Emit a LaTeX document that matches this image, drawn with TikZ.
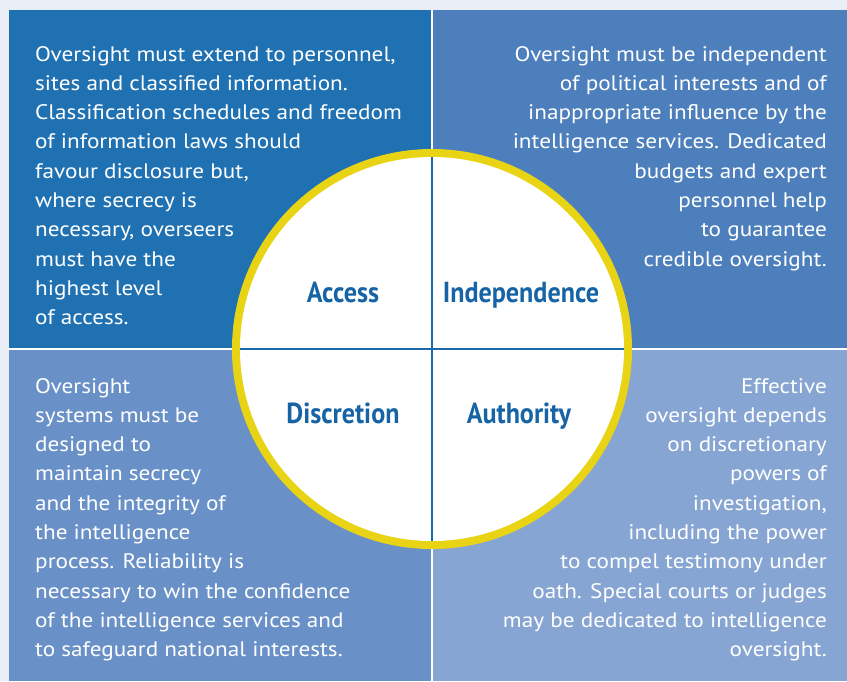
\documentclass[tikz,border=0pt]{standalone}
\usepackage{fontspec}
\setmainfont{PT Sans}[FakeStretch=1.105]
\newfontfamily\titlefont{PT Sans}[FakeStretch=0.9]
\definecolor{bgc}{RGB}{233,237,245}
\definecolor{qtl}{RGB}{32,113,178}
\definecolor{qtr}{RGB}{76,127,187}
\definecolor{qbl}{RGB}{105,145,199}
\definecolor{qbr}{RGB}{135,165,210}
\definecolor{ringc}{RGB}{232,212,20}
\definecolor{titc}{RGB}{22,100,165}
\definecolor{crossc}{RGB}{26,105,170}
\tikzset{
  body/.style={text=white,font=\fontsize{21}{25}\selectfont,inner sep=0pt},
  bodyl/.style={body,anchor=base west},
  bodyr/.style={body,anchor=base east},
  ttl/.style={text=titc,font=\titlefont\bfseries\fontsize{29}{32}\selectfont,inner sep=0pt,anchor=base}
}
\begin{document}
\begin{tikzpicture}[x=1pt,y=-1pt]
\useasboundingbox (0,0) rectangle (847,681);
\fill[bgc] (0,0) rectangle (847,681);
\fill[white] (9,10) rectangle (847,681);
\fill[qtl] (9,10) rectangle (431,348);
\fill[qtr] (433,10) rectangle (847,348);
\fill[qbl] (9,350) rectangle (431,681);
\fill[qbr] (433,350) rectangle (847,681);
\coordinate (c) at (432,349);
\fill[ringc] (c) circle (200);
\fill[white] (c) circle (192);
\coordinate (ct) at (432,157);
\coordinate (cb) at (432,541);
\coordinate (cl) at (240,349);
\coordinate (cr) at (624,349);
\draw[crossc,line width=2.6pt] (ct) -- (cb);
\draw[crossc,line width=2.6pt] (cl) -- (cr);
\node[ttl] (access) at (343,302) {Access};
\node[ttl] (indep) at (521,302) {Independence};
\node[ttl] (discr) at (343,423) {Discretion};
\node[ttl] (auth) at (519,423) {Authority};
\foreach \t [count=\i] in {{Oversight must extend to personnel,},{sites and classified information.},{Classification schedules and freedom},{of information laws should},{favour disclosure but,},{where secrecy is},{necessary, overseers},{must have the},{highest level},{of access.}}
  \node[bodyl] (tl\i) at (35,{61+29.3*(\i-1)}) {\t};
\foreach \t [count=\i] in {{Oversight must be independent},{of political interests and of},{inappropriate influence by the},{intelligence services. Dedicated},{budgets and expert},{personnel help},{to guarantee},{credible oversight.}}
  \node[bodyr] (tr\i) at (827,{61+29.3*(\i-1)}) {\t};
\foreach \t [count=\i] in {{Oversight},{systems must be},{designed to},{maintain secrecy},{and the integrity of},{the intelligence},{process. Reliability is},{necessary to win the confidence},{of the intelligence services and},{to safeguard national interests.}}
  \node[bodyl] (bl\i) at (35,{393+29.3*(\i-1)}) {\t};
\foreach \t [count=\i] in {{Effective},{oversight depends},{on discretionary},{powers of},{investigation,},{including the power},{to compel testimony under},{oath. Special courts or judges},{may be dedicated to intelligence},{oversight.}}
  \node[bodyr] (br\i) at (827,{393+29.3*(\i-1)}) {\t};
\end{tikzpicture}
\end{document}
